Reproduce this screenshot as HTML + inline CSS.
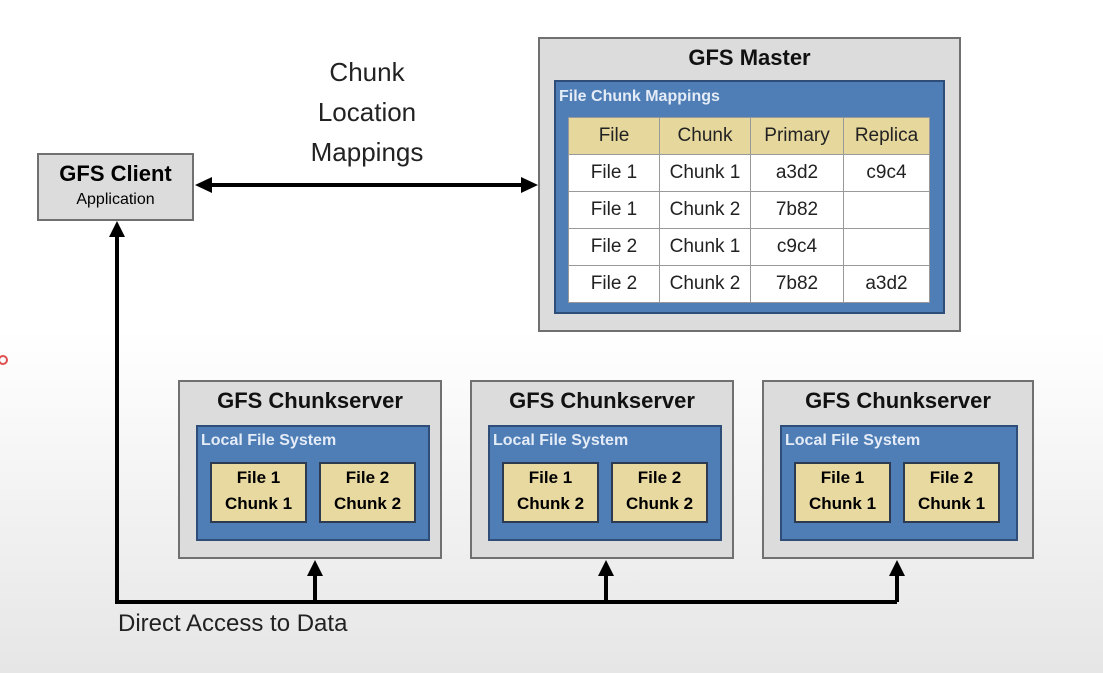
<!DOCTYPE html>
<html><head><style>
body{margin:0;width:1103px;height:673px;overflow:hidden;background:linear-gradient(#fff 0,#fff 330px,#e6e6e6 673px);font-family:"Liberation Sans","DejaVu Sans",sans-serif;position:relative}
.a{position:absolute;box-sizing:border-box}
.gray{background:#dcdcdc;border:2px solid #707070}
.blue{background:#4f7db5;border:2px solid #2e4d78}
.lbl{color:#e4ecf7;font-weight:bold;font-size:16px}
.y{background:#e8d9a0;border:2px solid #2e3a50;font-weight:bold;font-size:17px;text-align:center;line-height:26px;padding-top:1px}
table{border-collapse:collapse;font-size:19px}
td{border:1px solid #999;background:#fff;text-align:center;height:36px;padding:0;color:#222}
tr.h td{background:#e6d79c}
.t{font-weight:bold;font-size:22px;text-align:center;color:#111}
</style></head><body>
<div class="a" style="left:300px;top:52px;width:134px;text-align:center;font-size:26px;line-height:40px;color:#222">Chunk<br>Location<br>Mappings</div>
<div class="a gray" style="left:37px;top:153px;width:157px;height:68px;text-align:center">
<div style="font-weight:bold;font-size:22px;margin-top:6px">GFS Client</div><div style="font-size:16px;margin-top:4px">Application</div></div>
<div class="a gray" style="left:538px;top:37px;width:423px;height:295px"><div class="t" style="margin-top:6px">GFS Master</div></div>
<div class="a blue" style="left:554px;top:80px;width:391px;height:234px"><div class="lbl" style="margin:6px 0 0 3px">File Chunk Mappings</div></div>
<table class="a" style="left:568px;top:117px;width:362px">
<tr class="h"><td style="width:90px">File</td><td style="width:90px">Chunk</td><td style="width:92px">Primary</td><td>Replica</td></tr>
<tr><td>File 1</td><td>Chunk 1</td><td>a3d2</td><td>c9c4</td></tr>
<tr><td>File 1</td><td>Chunk 2</td><td>7b82</td><td></td></tr>
<tr><td>File 2</td><td>Chunk 1</td><td>c9c4</td><td></td></tr>
<tr><td>File 2</td><td>Chunk 2</td><td>7b82</td><td>a3d2</td></tr>
</table>
<div class="a gray" style="left:178px;top:380px;width:264px;height:179px"><div class="t" style="margin-top:6px">GFS Chunkserver</div></div>
<div class="a blue" style="left:196px;top:425px;width:234px;height:116px"><div class="lbl" style="margin:5px 0 0 3px">Local File System</div></div>
<div class="a y" style="left:210px;top:462px;width:97px;height:61px">File 1<br>Chunk 1</div>
<div class="a y" style="left:319px;top:462px;width:97px;height:61px">File 2<br>Chunk 2</div>
<div class="a gray" style="left:470px;top:380px;width:264px;height:179px"><div class="t" style="margin-top:6px">GFS Chunkserver</div></div>
<div class="a blue" style="left:488px;top:425px;width:234px;height:116px"><div class="lbl" style="margin:5px 0 0 3px">Local File System</div></div>
<div class="a y" style="left:502px;top:462px;width:97px;height:61px">File 1<br>Chunk 2</div>
<div class="a y" style="left:611px;top:462px;width:97px;height:61px">File 2<br>Chunk 2</div>
<div class="a gray" style="left:762px;top:380px;width:272px;height:179px"><div class="t" style="margin-top:6px">GFS Chunkserver</div></div>
<div class="a blue" style="left:780px;top:425px;width:238px;height:116px"><div class="lbl" style="margin:5px 0 0 3px">Local File System</div></div>
<div class="a y" style="left:794px;top:462px;width:97px;height:61px">File 1<br>Chunk 1</div>
<div class="a y" style="left:903px;top:462px;width:97px;height:61px">File 2<br>Chunk 1</div>
<svg class="a" style="left:0;top:0" width="1103" height="673">
<g stroke="#000" stroke-width="4" fill="none">
<line x1="208" y1="185" x2="524" y2="185"/>
<polyline points="117,234 117,602 897,602"/>
<line x1="315" y1="602" x2="315" y2="574"/>
<line x1="606" y1="602" x2="606" y2="574"/>
<line x1="897" y1="602" x2="897" y2="574"/>
</g>
<g fill="#000">
<polygon points="195,185 212,177 212,193"/>
<polygon points="538,185 521,177 521,193"/>
<polygon points="117,221 109,237 125,237"/>
<polygon points="315,560 307,576 323,576"/>
<polygon points="606,560 598,576 614,576"/>
<polygon points="897,560 889,576 905,576"/>
</g>
<circle cx="3" cy="360" r="4" fill="none" stroke="#e05050" stroke-width="2"/>
</svg>
<div class="a" style="left:118px;top:610px;font-size:24px;color:#222">Direct Access to Data</div>
</body></html>
